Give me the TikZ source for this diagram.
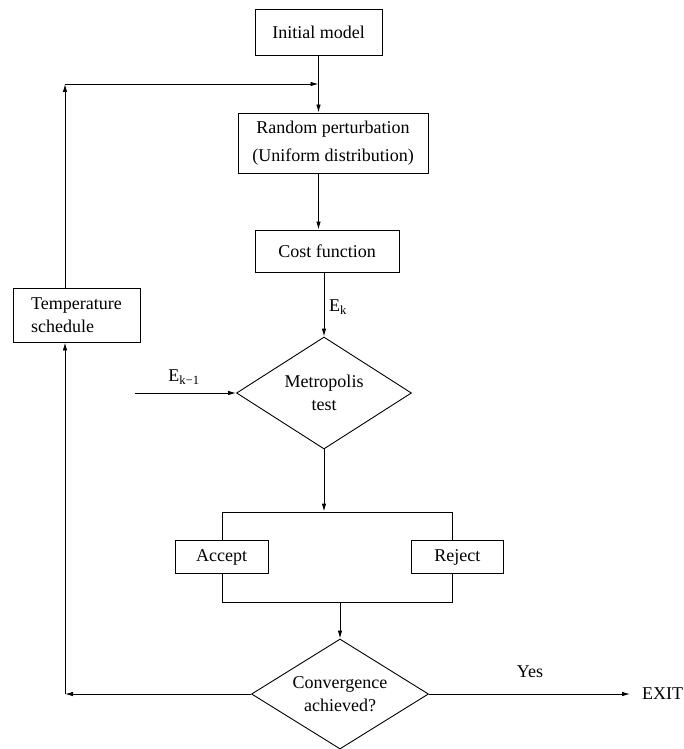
\documentclass[tikz,border=0pt]{standalone}
\usepackage{fontspec}
\setmainfont{Liberation Serif}
\usetikzlibrary{shapes.geometric,arrows.meta}
\begin{document}
\begin{tikzpicture}[x=1pt,y=-1pt,
  every node/.style={font=\fontsize{18}{23}\selectfont},
  box/.style={draw, line width=0.9pt, fill=white, inner sep=0pt, align=center},
  dia/.style={draw, diamond, aspect=1.6, line width=0.9pt, inner sep=0pt, align=center},
  conn/.style={line width=0.9pt},
  arr/.style={conn, -{Latex[length=8pt,width=4.5pt]}},
  lbl/.style={inner sep=0pt}]
\useasboundingbox (0,0) rectangle (683,749);
\node[box, minimum width=127pt, minimum height=46pt] (init) at (318.5,32) {Initial model};
\node[box, minimum width=190pt, minimum height=60pt] (rp) at (333,143) {Random perturbation\\[5pt](Uniform distribution)};
\node[box, minimum width=144pt, minimum height=42pt] (cost) at (327,251) {Cost function};
\node[dia, minimum width=175pt, minimum height=112pt] (metro) at (324,393) {Metropolis\\test};
\node[box, minimum width=127pt, minimum height=54pt, align=left] (temp) at (76.5,315) {Temperature\\schedule};
\node[box, fill=none, minimum width=230pt, minimum height=90pt] (frame) at (337,557) {};
\node[box, minimum width=93pt, minimum height=33pt] (acc) at (frame.west) {Accept};
\node[box, minimum width=92pt, minimum height=33pt] (rej) at ([xshift=5pt]frame.east) {Reject};
\node[dia, minimum width=177pt, minimum height=110pt] (conv) at (340,694) {Convergence\\achieved?};
\node[lbl, anchor=west] (exit) at (642,694) {EXIT};
\node[lbl] (yes) at (530,672) {Yes};
\node[lbl] (ek) at (338,307) {E\textsubscript{k}};
\node[lbl] (ekm) at (184,377) {E\textsubscript{k−1}};
\coordinate (ein) at (135,393);
\coordinate (lt) at (65,84);
\coordinate (lb) at (65,694);
\draw[arr] (init.south) -- (init.south |- rp.north);
\draw[arr] (init.south |- rp.south) -- (init.south |- cost.north);
\draw[arr] (metro.north |- cost.south) -- (metro.north);
\draw[arr] (ein) -- (metro.west);
\draw[arr] (metro.south) -- (metro.south |- frame.north);
\draw[arr] (conv.north |- frame.south) -- (conv.north);
\draw[arr, shorten >=12pt] (conv.east) -- (exit.west);
\draw[arr] (conv.west) -- (lb);
\draw[arr] (lb) -- (lb |- temp.south);
\draw[arr] (lt |- temp.north) -- (lt);
\draw[arr] (lt) -- (lt -| init.south);
\end{tikzpicture}
\end{document}
